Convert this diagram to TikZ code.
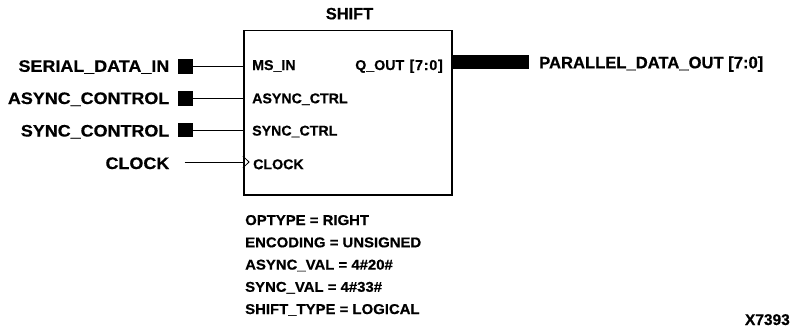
\documentclass[tikz,border=0pt]{standalone}
\usepackage{fontspec}
\setmainfont{Liberation Sans}[BoldFeatures={FakeBold=0.6}]
\newfontfamily\widefont{Liberation Sans}[FakeStretch=1.08,BoldFeatures={FakeBold=0.6}]
\newfontfamily\parfont{Liberation Sans}[FakeStretch=1.05,BoldFeatures={FakeBold=0.6}]
\begin{document}
\begin{tikzpicture}[x=1pt,y=-1pt,
  big/.style={font=\widefont\fontsize{16.6}{18}\selectfont\bfseries, inner sep=0},
  bigplain/.style={font=\fontsize{16.6}{18}\selectfont\bfseries, inner sep=0},
  pinlab/.style={font=\fontsize{14.2}{16}\selectfont\bfseries, inner sep=0},
  param/.style={font=\parfont\fontsize{14.2}{16}\selectfont\bfseries, inner sep=0, anchor=base west},
  sq/.style={fill=black, minimum size=14.5pt, inner sep=0},
  wire/.style={line width=0.9pt}]
\useasboundingbox (0,0) rectangle (797,327);
% block
\node (box) [draw, line width=1.6pt, minimum width=208pt, minimum height=164.5pt, inner sep=0, anchor=north west] at (243,29.6) {};
\node (title) [bigplain, font=\fontsize{16.4}{18}\selectfont\bfseries, anchor=base] at (349.5,19.3) {SHIFT};
% inputs
\node (sq1) [sq] at (185.5,66.5) {};
\node (sq2) [sq] at (185.5,98.5) {};
\node (sq3) [sq] at (185.5,130) {};
\coordinate (clkin) at (184.5,162);
\node (l1) [big, anchor=base east] at (169.5,71.8) {SERIAL\_DATA\_IN};
\node (l2) [big, anchor=base east] at (169.5,104) {ASYNC\_CONTROL};
\node (l3) [big, anchor=base east] at (169.5,136.5) {SYNC\_CONTROL};
\node (l4) [big, anchor=base east] at (169.5,169) {CLOCK};
\draw[wire] (sq1.east) -- (sq1 -| box.west);
\draw[wire] (sq2.east) -- (sq2 -| box.west);
\draw[wire] (sq3.east) -- (sq3 -| box.west);
\draw[wire] (clkin) -- (clkin -| box.west);
% clock triangle
\coordinate (ct) at (box.west |- clkin);
\draw[line width=0.8pt] ([yshift=-5.8pt]ct) -- ([xshift=6pt]ct) -- ([yshift=5.8pt]ct);
% pin labels
\node (p1) [pinlab, anchor=base west] at (252,70) {MS\_IN};
\node (p2) [pinlab, anchor=base west] at (252,103.3) {ASYNC\_CTRL};
\node (p3) [pinlab, anchor=base west] at (252,135.6) {SYNC\_CTRL};
\node (p4) [pinlab, anchor=base west] at (253,169.2) {CLOCK};
\node (q) [pinlab, anchor=base east] at (443,70) {Q\_OUT\hspace{1.5pt} [\hspace{0.8pt}7\hspace{0.8pt}:\hspace{0.8pt}0\hspace{0.8pt}]};
% output bus
\coordinate (busend) at (529.3,62);
\draw[line width=14pt] (box.east |- busend) -- (busend);
\node (out) [bigplain, anchor=base west] at (539,68.3) {PARALLEL\_DATA\_OUT [7:0]};
% parameters
\node (a1) [param] at (245,225) {OPTYPE = RIGHT};
\node (a2) [param] at (245,247.3) {ENCODING = UNSIGNED};
\node (a3) [param] at (245,269.6) {ASYNC\_VAL = 4\#20\#};
\node (a4) [param] at (245,291.8) {SYNC\_VAL = 4\#33\#};
\node (a5) [param] at (245,314) {SHIFT\_TYPE = LOGICAL};
\node (fig) [bigplain, font=\fontsize{15.5}{18}\selectfont\bfseries, anchor=base east] at (790,325) {X7393};
\end{tikzpicture}
\end{document}
